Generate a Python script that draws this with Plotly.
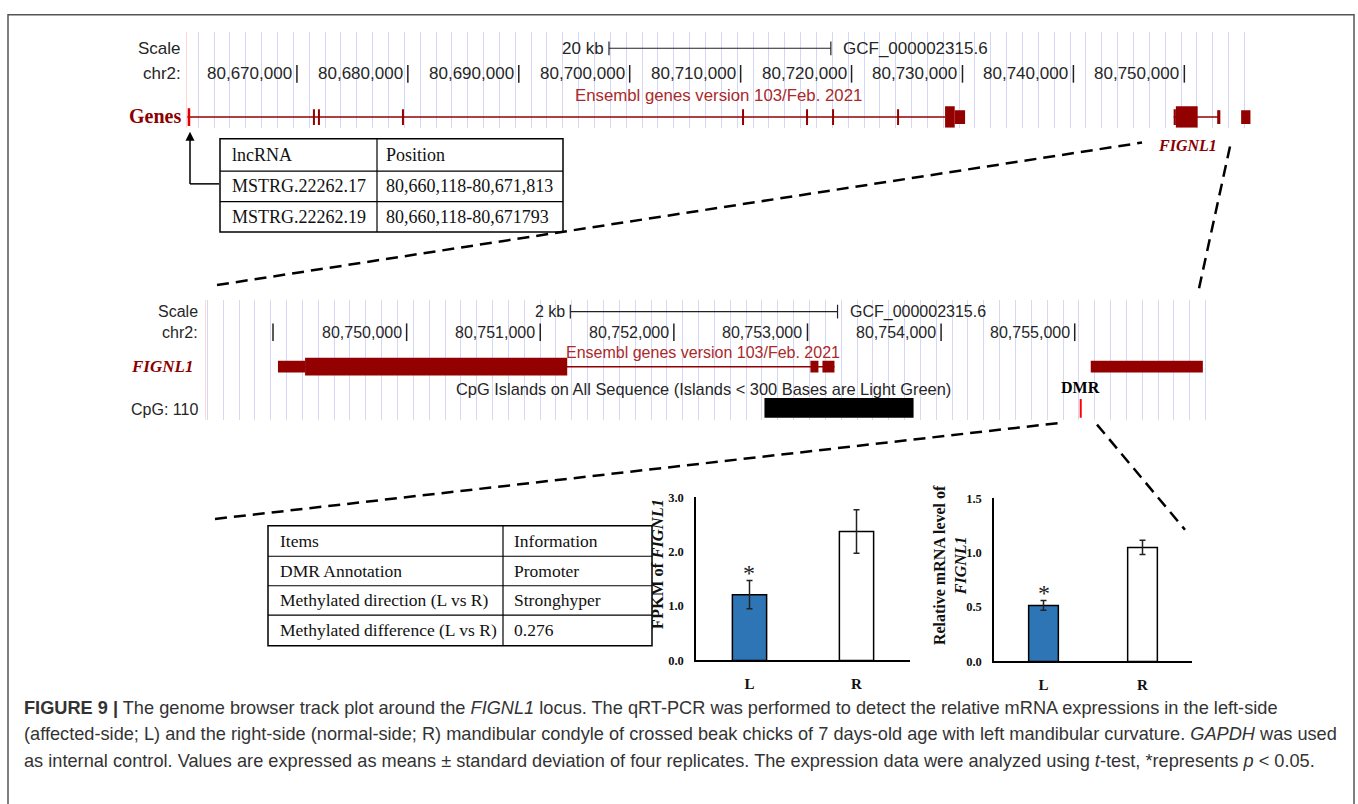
import plotly.graph_objects as go

W, H = 1358, 804
def px(x): return x / W
def py(y): return 1 - y / H

SANS = "Liberation Sans, Arial, Helvetica, sans-serif"
SERIF = "Liberation Serif, Times New Roman, serif"
GENE = "#920000"
ENS = "#aa2a2a"
GRID = "#d6d6f6"
PINK = "#ffbcbc"
BLUE = "#2e75b6"
TXT = "#262626"

# ---------------- data ----------------
top_range = [80660000, 80756100]
top_ticks = [80670000, 80680000, 80690000, 80700000, 80710000, 80720000, 80730000, 80740000, 80750000]
top_tick_labels = ["80,670,000", "80,680,000", "80,690,000", "80,700,000", "80,710,000",
                   "80,720,000", "80,730,000", "80,740,000", "80,750,000"]
top_scale = [80698133, 80718133]          # 20 kb bar

zoom_range = [80748491, 80756020]
zoom_ticks = [80749000, 80750000, 80751000, 80752000, 80753000, 80754000, 80755000]
zoom_tick_labels = ["", "80,750,000", "80,751,000", "80,752,000", "80,753,000", "80,754,000", "80,755,000"]
zoom_scale = [80751225, 80753225]         # 2 kb bar

lnc_start = 80660118
upstream_span = [80660118, 80728431]
upstream_marks = [80671533, 80671984, 80679558, 80710216, 80715987, 80718332, 80724193]
upstream_thick = [(80728431, 80729300)]
upstream_thin = [(80729300, 80730234)]

fignl1_span = [80749037, 80753202]
fignl1_thick = [(80749240, 80751202)]
fignl1_thin = [(80749037, 80749240), (80753022, 80753082), (80753112, 80753202)]
next_block = [(80755120, 80755959)]
cpg_island = [80752678, 80753794]
dmr_pos = 80755045

lnc_header = ["lncRNA", "Position"]
lnc_ids = ["MSTRG.22262.17", "MSTRG.22262.19"]
lnc_positions = ["80,660,118-80,671,813", "80,660,118-80,671793"]

dmr_items = ["Items", "DMR Annotation", "Methylated direction (L vs R)", "Methylated difference (L vs R)"]
dmr_info = ["Information", "Promoter", "Stronghyper", "0.276"]

groups = ["L", "R"]
fpkm_mean = [1.21, 2.37]
fpkm_sd = [0.26, 0.40]
rel_mean = [0.515, 1.048]
rel_sd = [0.045, 0.066]

caption = [
    "<b>FIGURE 9 |</b> The genome browser track plot around the <i>FIGNL1</i> locus. The qRT-PCR was performed to detect the relative mRNA expressions in the left-side",
    "(affected-side; L) and the right-side (normal-side; R) mandibular condyle of crossed beak chicks of 7 days-old age with left mandibular curvature. <i>GAPDH</i> was used",
    "as internal control. Values are expressed as means ± standard deviation of four replicates. The expression data were analyzed using <i>t</i>-test, *represents <i>p</i> &lt; 0.05.",
]

# ---------------- figure ----------------
fig = go.Figure()
shapes, ann = [], []

def hl(x0, y0, x1, y1, color="black", width=1.5, dash=None, xref="paper", yref="paper", layer="above"):
    d = dict(type="line", x0=x0, y0=y0, x1=x1, y1=y1, xref=xref, yref=yref,
             line=dict(color=color, width=width), layer=layer)
    if dash:
        d["line"]["dash"] = dash
    shapes.append(d)

def rect(x0, y0, x1, y1, fill, xref, yref, line_color=None, line_width=0):
    shapes.append(dict(type="rect", x0=x0, y0=y0, x1=x1, y1=y1, xref=xref, yref=yref,
                       fillcolor=fill, line=dict(color=line_color or fill, width=line_width)))

def text(x, y, s, size=16, color=TXT, family=SANS, xanchor="center", xref="paper", yref="paper",
         xshift=0, yshift=0, weight="normal", style="normal", angle=0, yanchor="middle"):
    ann.append(dict(x=x, y=y, text=s, xref=xref, yref=yref, showarrow=False, xanchor=xanchor,
                    yanchor=yanchor, xshift=xshift, yshift=yshift, textangle=angle,
                    font=dict(size=size, color=color, family=family, weight=weight, style=style)))

# ---- top track ----
fig.add_trace(go.Scatter(x=upstream_span, y=[112, 112], mode="lines", line=dict(color=GENE, width=1.5),
                         xaxis="x", yaxis="y", hoverinfo="skip", showlegend=False))
fig.add_trace(go.Scatter(x=fignl1_span, y=[112, 112], mode="lines", line=dict(color=GENE, width=1.5),
                         xaxis="x", yaxis="y", hoverinfo="skip", showlegend=False))
hl(top_range[0], 25, top_range[0], 123, color=PINK, width=1.2, xref="x", yref="y")
hl(lnc_start + 150, 103, lnc_start + 150, 121, color="#e00000", width=2.5, xref="x", yref="y")
for m in upstream_marks:
    hl(m, 104, m, 120, color=GENE, width=2, xref="x", yref="y")
for a, b in upstream_thick + fignl1_thick:
    rect(a, 101, b, 123, GENE, "x", "y")
for a, b in upstream_thin:
    rect(a, 105, b, 119, GENE, "x", "y")
for a, b in fignl1_thin[:1]:
    rect(a, 104, b, 120, GENE, "x", "y")
for a, b in fignl1_thin[1:]:
    hl((a + b) / 2, 105, (a + b) / 2, 119, color=GENE, width=2, xref="x", yref="y")
for a, b in next_block:
    rect(a, 105, b, 119, GENE, "x", "y")
for t, lab in zip(top_ticks, top_tick_labels):
    hl(t, py(59), t, py(77), color="#222", width=1.5, xref="x")
    text(t, py(68), lab, size=17, xanchor="right", xref="x", xshift=-3)
hl(top_scale[0], py(42), top_scale[1], py(42), color="#222", width=1.2, xref="x")
hl(top_scale[0], py(35), top_scale[0], py(49), color="#222", width=1.2, xref="x")
hl(top_scale[1], py(35), top_scale[1], py(49), color="#222", width=1.2, xref="x")
text(top_scale[0], py(42), "20 kb", size=17, xanchor="right", xref="x", xshift=-3)
text(top_scale[1], py(42), "GCF_000002315.6", size=17, xanchor="left", xref="x", xshift=10)
text(px(718), py(90), "Ensembl genes version 103/Feb. 2021", size=16.8, color=ENS)
text(px(183), py(42), "Scale", size=17, xanchor="right")
text(px(183), py(68), "chr2:", size=17, xanchor="right")
text(px(183), py(111), "Genes", size=20, color="#8b0000", family=SERIF, xanchor="right", weight="bold")
text(px(1187), py(141), "FIGNL1", size=16, color="#8b0000", family=SERIF, weight="bold", style="italic")

# ---- zoom track ----
fig.add_trace(go.Scatter(x=fignl1_span, y=[366, 366], mode="lines", line=dict(color=GENE, width=1.5),
                         xaxis="x2", yaxis="y2", hoverinfo="skip", showlegend=False))
hl(zoom_range[0], 298, zoom_range[0], 420, color=PINK, width=1.2, xref="x2", yref="y2")
for a, b in fignl1_thick:
    rect(a, 357, b, 375, GENE, "x2", "y2")
for a, b in fignl1_thin + next_block:
    rect(a, 360, b, 372, GENE, "x2", "y2")
rect(cpg_island[0], 398, cpg_island[1], 418, "black", "x2", "y2")
hl(dmr_pos, 399, dmr_pos, 418, color="#ff0000", width=2, xref="x2", yref="y2")
for t, lab in zip(zoom_ticks, zoom_tick_labels):
    hl(t, py(322), t, py(340), color="#222", width=1.5, xref="x2")
    if lab:
        text(t, py(331), lab, size=16, xanchor="right", xref="x2", xshift=-3)
hl(zoom_scale[0], py(310), zoom_scale[1], py(310), color="#222", width=1.2, xref="x2")
hl(zoom_scale[0], py(303), zoom_scale[0], py(317), color="#222", width=1.2, xref="x2")
hl(zoom_scale[1], py(303), zoom_scale[1], py(317), color="#222", width=1.2, xref="x2")
text(zoom_scale[0], py(310), "2 kb", size=16, xanchor="right", xref="x2", xshift=-3)
text(zoom_scale[1], py(310), "GCF_000002315.6", size=16, xanchor="left", xref="x2", xshift=10)
text(px(703), py(352), "Ensembl genes version 103/Feb. 2021", size=16, color=ENS)
text(px(703), py(389), "CpG Islands on All Sequence (Islands &lt; 300 Bases are Light Green)", size=16.4, color=TXT)
text(px(200), py(310), "Scale", size=16, xanchor="right")
text(px(200), py(331), "chr2:", size=16, xanchor="right")
text(px(195), py(366), "FIGNL1", size=17, color="#8b0000", family=SERIF, xanchor="right", weight="bold", style="italic")
text(px(200), py(410), "CpG: 110", size=16, xanchor="right")
text(dmr_pos, py(387), "DMR", size=16, color="black", family=SERIF, xref="x2", weight="bold")

# ---- connectors ----
DASH = "12px,7px"
hl(px(217), py(283), px(1142), py(138), width=2.5, dash=DASH)
hl(px(1230), py(142), px(1198), py(291), width=2.5, dash=DASH)
hl(px(215), py(521), px(1062), py(423), width=2.5, dash=DASH)
hl(px(1097), py(425), px(1185), py(532), width=2.5, dash=DASH)

# ---- lncRNA table ----
t1x = [220, 377, 563]
t1y = [134, 167, 198, 229]
shapes.append(dict(type="rect", x0=px(t1x[0]), x1=px(t1x[2]), y0=py(t1y[0]), y1=py(t1y[3]),
                   xref="paper", yref="paper", line=dict(color="black", width=1.5)))
for yy in t1y[1:3]:
    hl(px(t1x[0]), py(yy), px(t1x[2]), py(yy), width=1.2)
hl(px(t1x[1]), py(t1y[0]), px(t1x[1]), py(t1y[3]), width=1.2)
rows1 = [lnc_header] + [[i, p] for i, p in zip(lnc_ids, lnc_positions)]
for r, row in enumerate(rows1):
    yc = (t1y[r] + t1y[r + 1]) / 2
    text(px(t1x[0] + 10), py(yc), row[0], size=18, color="#111", family=SERIF, xanchor="left")
    text(px(t1x[1] + 7), py(yc), row[1], size=18, color="#111", family=SERIF, xanchor="left")
# arrow
hl(px(219), py(180), px(190), py(180), width=1.5)
ann.append(dict(x=px(190), y=py(127), ax=0, ay=53.7, xref="paper", yref="paper",
                axref="pixel", ayref="pixel", text="", showarrow=True, arrowhead=2, arrowsize=1.2,
                arrowwidth=1.5, arrowcolor="black"))

# ---- DMR table ----
t2x = [268, 503, 652]
t2y = [528, 559, 589, 619, 650]
shapes.append(dict(type="rect", x0=px(t2x[0]), x1=px(t2x[2]), y0=py(t2y[0]), y1=py(t2y[4]),
                   xref="paper", yref="paper", line=dict(color="black", width=1.5)))
for yy in t2y[1:4]:
    hl(px(t2x[0]), py(yy), px(t2x[2]), py(yy), width=1.2)
hl(px(t2x[1]), py(t2y[0]), px(t2x[1]), py(t2y[4]), width=1.2)
for r, (a, b) in enumerate(zip(dmr_items, dmr_info)):
    yc = (t2y[r] + t2y[r + 1]) / 2
    text(px(t2x[0] + 10), py(yc), a, size=17.5, color="#111", family=SERIF, xanchor="left")
    text(px(t2x[1] + 9), py(yc), b, size=17.5, color="#111", family=SERIF, xanchor="left")

# ---- bar charts ----
fig.add_trace(go.Bar(x=groups, y=fpkm_mean, width=0.32,
                     marker=dict(color=[BLUE, "white"], line=dict(color="black", width=1.5)),
                     error_y=dict(type="data", array=fpkm_sd, color="#222", thickness=1.5, width=3),
                     xaxis="x3", yaxis="y3", showlegend=False, hoverinfo="skip"))
fig.add_trace(go.Bar(x=groups, y=rel_mean, width=0.30,
                     marker=dict(color=[BLUE, "white"], line=dict(color="black", width=1.5)),
                     error_y=dict(type="data", array=rel_sd, color="#222", thickness=1.5, width=3),
                     xaxis="x4", yaxis="y4", showlegend=False, hoverinfo="skip"))
text("L", fpkm_mean[0] + fpkm_sd[0], "*", size=24, color="#222", family=SERIF, xref="x3", yref="y3", yshift=8)
text("L", rel_mean[0] + rel_sd[0], "*", size=24, color="#222", family=SERIF, xref="x4", yref="y4", yshift=8)
text(px(657), py(567), "FPKM of <i>FIGNL1</i>", size=16.5, color="#111", family=SERIF, weight="bold", angle=-90)
text(px(950), py(568), "Relative mRNA level of<br><i>FIGNL1</i>", size=16, color="#111", family=SERIF,
     weight="bold", angle=-90)

# ---- caption ----
for i, line in enumerate(caption):
    text(px(22), py(713 + 27.3 * i), line, size=18.2, color="#333", family=SANS, xanchor="left")

# ---- outer border ----
shapes.append(dict(type="rect", x0=px(8), x1=px(1354), y0=py(8), y1=py(840), xref="paper", yref="paper",
                   line=dict(color="#555", width=1.5)))

bar_x = dict(showline=True, linecolor="black", linewidth=1.5, ticks="", showgrid=False, zeroline=False,
             tickfont=dict(family=SERIF, size=15, color="#111", weight="bold"), ticklabelstandoff=9,
             fixedrange=True)
bar_y = dict(showline=True, linecolor="black", linewidth=1.5, ticks="", showgrid=False, zeroline=False,
             tickfont=dict(family=SERIF, size=12.5, color="#111", weight="bold"), tickformat=".1f",
             ticklabelstandoff=8, fixedrange=True)

fig.update_layout(
    width=W, height=H, margin=dict(l=0, r=0, t=0, b=0),
    paper_bgcolor="white", plot_bgcolor="white", showlegend=False,
    xaxis=dict(domain=[px(186), px(1252)], range=top_range, anchor="y", showgrid=True, gridcolor=GRID,
               gridwidth=1, tick0=80739700, dtick=1429, showticklabels=False, ticks="", zeroline=False,
               showline=False, fixedrange=True),
    yaxis=dict(domain=[py(123), py(25)], range=[123, 25], anchor="x", visible=False, fixedrange=True),
    xaxis2=dict(domain=[px(205), px(1211)], range=zoom_range, anchor="y2", showgrid=True, gridcolor=GRID,
                gridwidth=1, tick0=80755150, dtick=118.6, showticklabels=False, ticks="", zeroline=False,
                showline=False, fixedrange=True),
    yaxis2=dict(domain=[py(420), py(298)], range=[420, 298], anchor="x2", visible=False, fixedrange=True),
    xaxis3=dict(domain=[px(696), px(910)], range=[-0.5, 1.5], anchor="y3", **bar_x),
    yaxis3=dict(domain=[py(665), py(499)], range=[0, 3], dtick=1, anchor="x3", **bar_y),
    xaxis4=dict(domain=[px(994), px(1192)], range=[-0.5, 1.5], anchor="y4", **bar_x),
    yaxis4=dict(domain=[py(666), py(500)], range=[0, 1.5], dtick=0.5, anchor="x4", **bar_y),
    shapes=shapes, annotations=ann,
)

fig.write_html("out.html")
